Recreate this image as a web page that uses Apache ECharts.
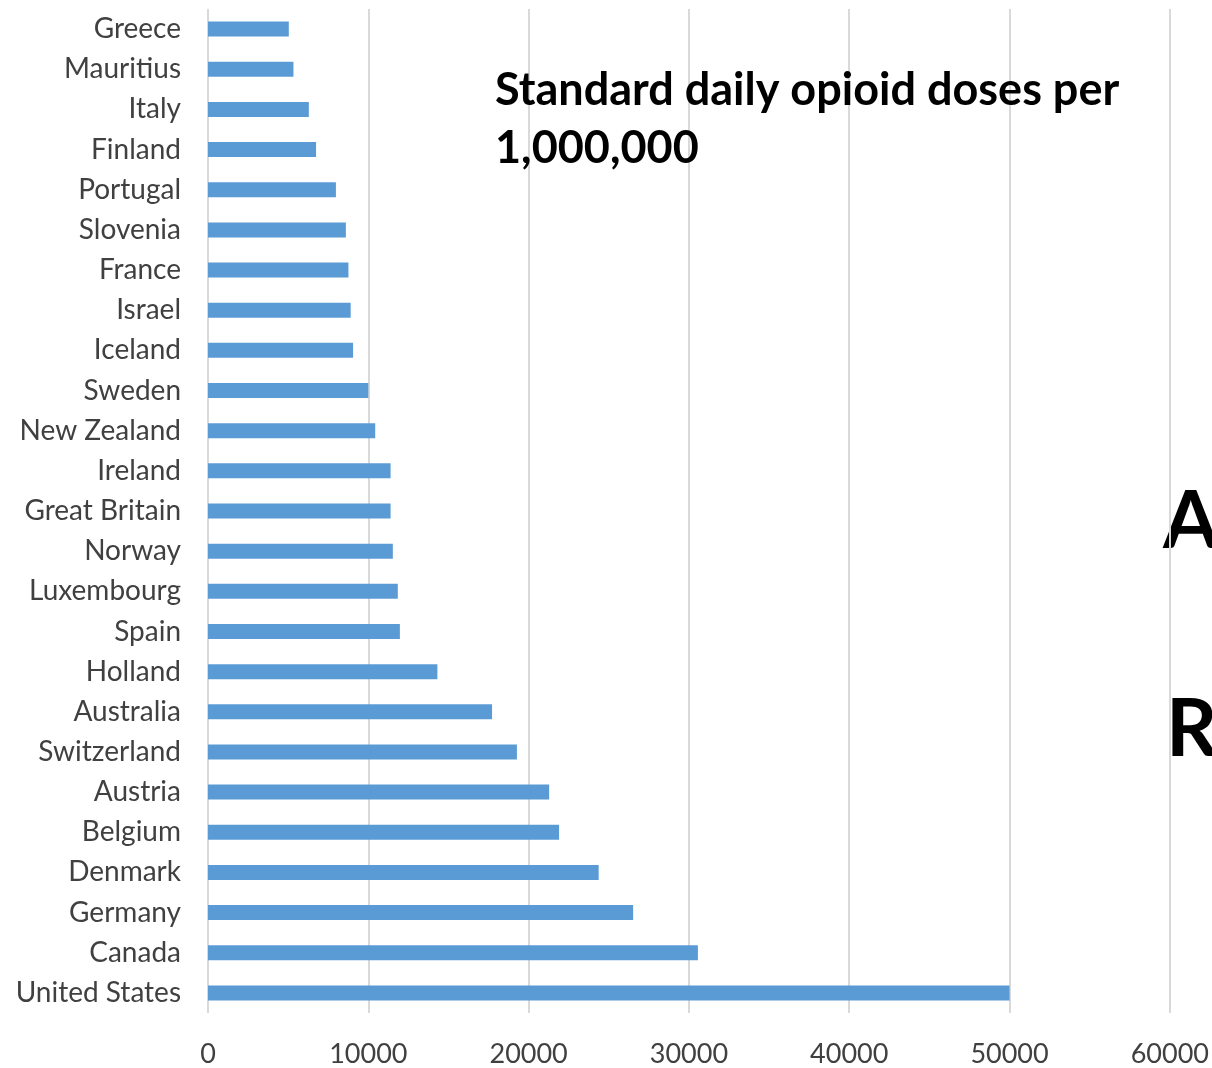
<!DOCTYPE html>
<html>
<head>
<meta charset="utf-8">
<title>Standard daily opioid doses per 1,000,000</title>
<script src="https://cdn.jsdelivr.net/npm/echarts@6/dist/echarts.min.js"></script>
<style>
  html, body { margin: 0; padding: 0; background: #ffffff; overflow: hidden; }
  #chart { width: 1212px; height: 1068px; }
</style>
</head>
<body>
<div id="chart"></div>
<script>
// Countries, listed top to bottom
const countries = [
  'Greece', 'Mauritius', 'Italy', 'Finland', 'Portugal', 'Slovenia', 'France',
  'Israel', 'Iceland', 'Sweden', 'New Zealand', 'Ireland', 'Great Britain',
  'Norway', 'Luxembourg', 'Spain', 'Holland', 'Australia', 'Switzerland',
  'Austria', 'Belgium', 'Denmark', 'Germany', 'Canada', 'United States'
];

// Standard daily opioid doses per 1,000,000 inhabitants
const doses = [
  5040, 5330, 6290, 6740, 7980, 8600, 8760,
  8900, 9050, 10000, 10430, 11390, 11390,
  11530, 11840, 11970, 14310, 17720, 19270,
  21280, 21900, 24370, 26520, 30560, 50000
];

// Value axis ticks
const axisMin = 0;
const axisMax = 60000;
const axisStep = 10000;

const headline = 'Standard daily opioid doses per\n1,000,000';
const sideLetters = ['A', 'R'];

const chart = echarts.init(document.getElementById('chart'), null, { renderer: 'canvas' });

chart.setOption({
  backgroundColor: '#ffffff',
  animation: false,
  title: {
    text: headline,
    left: 490,
    top: 56,
    textStyle: {
      fontFamily: 'Lato',
      fontWeight: 'bold',
      fontSize: 45,
      lineHeight: 58,
      color: '#000000'
    }
  },
  graphic: [
    {
      type: 'text',
      left: 1163,
      top: 482,
      style: { text: sideLetters[0], font: 'bold 80px Lato', fill: '#000000' }
    },
    {
      type: 'text',
      left: 1166,
      top: 690,
      style: { text: sideLetters[1], font: 'bold 80px Lato', fill: '#000000' }
    }
  ],
  grid: {
    left: 208,
    right: 34,
    top: 9,
    bottom: 54,
    containLabel: false
  },
  xAxis: {
    type: 'value',
    min: axisMin,
    max: axisMax,
    interval: axisStep,
    axisLine: { show: false },
    axisTick: { show: false },
    splitLine: { show: true, lineStyle: { color: '#d9d9d9', width: 2 } },
    axisLabel: {
      margin: 28,
      fontFamily: 'Lato',
      fontSize: 27,
      color: '#404040',
      formatter: (v) => String(v)
    }
  },
  yAxis: {
    type: 'category',
    data: countries,
    inverse: true,
    axisLine: { show: false },
    axisTick: { show: false },
    splitLine: { show: false },
    axisLabel: {
      margin: 27,
      fontFamily: 'Lato',
      fontSize: 28,
      color: '#404040'
    }
  },
  series: [
    {
      type: 'bar',
      data: doses,
      barWidth: 15,
      itemStyle: { color: '#5b9bd5' }
    }
  ]
});
</script>
</body>
</html>
